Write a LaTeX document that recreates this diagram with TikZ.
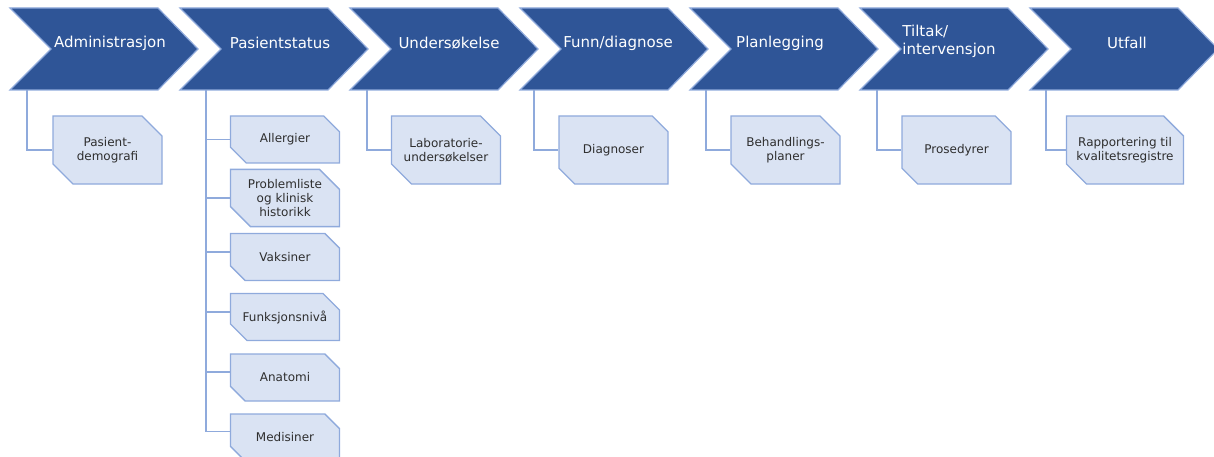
\documentclass[tikz,border=0pt]{standalone}
\usepackage{fontspec}
\setmainfont{DejaVu Sans}
\usetikzlibrary{shapes, positioning, shapes.misc}

\definecolor{chevblue}{HTML}{2F5597}
\definecolor{lineblue}{HTML}{8FAADC}
\definecolor{boxfill}{HTML}{DAE3F3}
\definecolor{boxtext}{HTML}{2E2E2E}

\begin{document}
\begin{tikzpicture}[
    x=1pt, y=-1pt,
    % Stiler for fasene
    phase/.style={draw=lineblue, line width=1.2pt, fill=chevblue, line join=miter},
    phasetext/.style={font=\fontsize{15}{18}\selectfont, text=white, align=left},
    % Stiler for elementene
    item/.style={chamfered rectangle, chamfered rectangle corners={north east, south west},
        chamfered rectangle xsep=10pt, chamfered rectangle ysep=10pt,
        draw=lineblue, line width=1.3pt, fill=boxfill, text=boxtext, align=center,
        font=\fontsize{12}{14}\selectfont, inner sep=0pt,
        minimum width=109pt, minimum height=68pt},
    smallitem/.style={item, minimum height=47pt},
    % Stil for koblinger
    link/.style={draw=lineblue, line width=1.3pt}
]

\useasboundingbox (0,0) rectangle (1214,457);

% === FASER ===
\draw[phase] (10,8) -- ++(148,0) -- ++(40,41) -- ++(-40,41) -- ++(-148,0) -- ++(41,-41) -- cycle;
\draw[phase] (180,8) -- ++(148,0) -- ++(40,41) -- ++(-40,41) -- ++(-148,0) -- ++(41,-41) -- cycle;
\draw[phase] (350,8) -- ++(148,0) -- ++(40,41) -- ++(-40,41) -- ++(-148,0) -- ++(41,-41) -- cycle;
\draw[phase] (520,8) -- ++(148,0) -- ++(40,41) -- ++(-40,41) -- ++(-148,0) -- ++(41,-41) -- cycle;
\draw[phase] (690,8) -- ++(148,0) -- ++(40,41) -- ++(-40,41) -- ++(-148,0) -- ++(41,-41) -- cycle;
\draw[phase] (860,8) -- ++(148,0) -- ++(40,41) -- ++(-40,41) -- ++(-148,0) -- ++(41,-41) -- cycle;
\draw[phase] (1030,8) -- ++(148,0) -- ++(40,41) -- ++(-40,41) -- ++(-148,0) -- ++(41,-41) -- cycle;

\node[phasetext] (adm) at (110,43) {Administrasjon};
\node[phasetext] (pas) at (280,43) {Pasientstatus};
\node[phasetext] (und) at (449,43) {Undersøkelse};
\node[phasetext] (funn) at (618,43) {Funn/diagnose};
\node[phasetext] (plan) at (780,43) {Planlegging};
\node[phasetext] (tilt) at (949,41) {Tiltak/\\intervensjon};
\node[phasetext] (utf) at (1127,43) {Utfall};

% fotpunkter under fasene
\coordinate (admfoot) at (27,90);
\coordinate (pasfoot) at (206,90);
\coordinate (undfoot) at (367,90);
\coordinate (funnfoot) at (534,90);
\coordinate (planfoot) at (706,90);
\coordinate (tiltfoot) at (877,90);
\coordinate (utffoot) at (1046,90);

% === ELEMENTER ===
\node[item] (demo) at (107.5,150) {Pasient-\\demografi};

\node[smallitem] (allerg) at (285,139.5) {Allergier};
\node[smallitem] (problem) at (285,198) {Problemliste\\og klinisk\\historikk};
\node[smallitem] (vaks) at (285,257) {Vaksiner};
\node[smallitem] (funk) at (285,317) {Funksjonsnivå};
\node[smallitem] (anat) at (285,377.5) {Anatomi};
\node[smallitem] (medis) at (285,437.5) {Medisiner};

\node[item] (lab) at (446,150) {Laboratorie-\\undersøkelser};
\node[item] (diag) at (613.5,150) {Diagnoser};
\node[item] (behand) at (785.5,150) {Behandlings-\\planer};
\node[item] (pros) at (956.5,150) {Prosedyrer};
\node[item] (rapp) at (1125,150) {Rapportering til\\kvalitetsregistre};

% === KOBLINGER ===
\draw[link] (admfoot) |- (demo.west);

\draw[link] (pasfoot) |- (allerg.west);
\draw[link] (pasfoot) |- (problem.west);
\draw[link] (pasfoot) |- ([yshift=5pt]vaks.west);
\draw[link] (pasfoot) |- ([yshift=5pt]funk.west);
\draw[link] (pasfoot) |- ([yshift=5.5pt]anat.west);
\draw[link] (pasfoot) |- ([yshift=6pt]medis.west);

\draw[link] (undfoot) |- (lab.west);
\draw[link] (funnfoot) |- (diag.west);
\draw[link] (planfoot) |- (behand.west);
\draw[link] (tiltfoot) |- (pros.west);
\draw[link] (utffoot) |- (rapp.west);

\end{tikzpicture}
\end{document}
